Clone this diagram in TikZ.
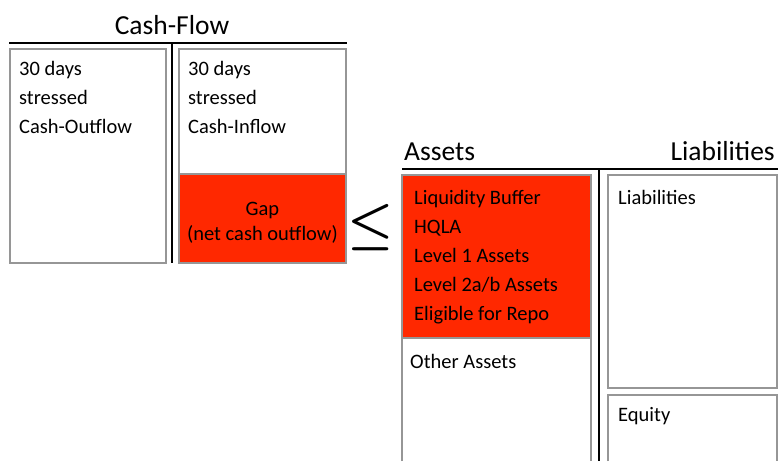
\documentclass[tikz,border=0pt]{standalone}
\usepackage{fontspec}
\setmainfont{Carlito}
\definecolor{gapred}{RGB}{255,40,0}
\definecolor{boxgray}{RGB}{150,150,150}
\tikzset{
  box/.style={draw=boxgray, line width=1.2pt},
  rule/.style={draw=black, line width=2.2pt},
  txt/.style={anchor=base west, inner sep=0pt, font=\fontsize{20.5}{29}\selectfont},
  title/.style={inner sep=0pt, font=\fontsize{27.5}{33}\selectfont},
}

\begin{document}
\begin{tikzpicture}[x=1pt,y=-1pt]
\useasboundingbox (0,0) rectangle (779,461);
\newcommand{\Skip}{29}
\coordinate (OutA) at (10,49);
\coordinate (OutB) at (166,263);
\coordinate (InA) at (179,49);
\coordinate (InB) at (346,174);
\coordinate (GapB) at (346,263);
\coordinate (BufA) at (402,175);
\coordinate (BufB) at (591,338);
\coordinate (LiabA) at (608,175);
\coordinate (LiabB) at (777,388);
\coordinate (EqA) at (608,395);



\draw[box] (OutA) rectangle (OutB);% Outflow Box
\draw[box] (InA) rectangle (InB);% Inflow Box
\draw[box, fill=gapred] (InB -| InA) rectangle (GapB);% Gap Box
\draw[box, fill=gapred] (BufA) rectangle (BufB);% Buffer Box
\draw[box] (BufA |- 0,461) -- (BufA |- BufB) -- (BufB) -- (BufB |- 0,461);% Other Assets Box
\draw[box] (LiabA) rectangle (LiabB);% Liabilities Box
\draw[box] (EqA |- 0,461) -- (EqA) -- (EqA -| LiabB) -- (LiabB |- 0,461);% Equity Box

\draw[rule] (9,43) -- (347,43);% Cash-Flow Rule
\draw[rule] (172,43) -- (172,263);
\draw[rule] (402,169) -- (778,169);% Balance Rule
\draw[rule] (599,169) -- (599,461);

\node[title, anchor=base] (cashflow) at (172,34) {Cash-Flow};
\node[title, anchor=base west] (assets) at (404,160) {Assets};
\node[title, anchor=base east] (liabs) at (775,160) {Liabilities};

\foreach \txt [count=\i] in {30 days, stressed, Cash-Outflow}{
    \node[txt] (out\i) at (19,{75+\Skip*(\i-1)}) {\txt};
}
\foreach \txt [count=\i] in {30 days, stressed, Cash-Inflow}{
    \node[txt] (in\i) at (188,{75+\Skip*(\i-1)}) {\txt};
}
\foreach \txt [count=\i] in {Liquidity Buffer, HQLA, Level 1 Assets, Level 2a/b Assets, Eligible for Repo}{
    \node[txt] (buf\i) at (414,{204+\Skip*(\i-1)}) {\txt};
}
\node[txt, anchor=base] (gap1) at (262.5,215) {Gap};
\node[txt, anchor=base] (gap2) at (262.5,240) {(net cash outflow)};
\node[txt] (other) at (410,368) {Other Assets};
\node[txt] (liab) at (618,204) {Liabilities};
\node[txt] (equity) at (618,421) {Equity};

\node[txt, anchor=base] (leq) at (371,240) {\scalebox{2.5}{\boldmath$\leq$}};
\end{tikzpicture}
\end{document}
